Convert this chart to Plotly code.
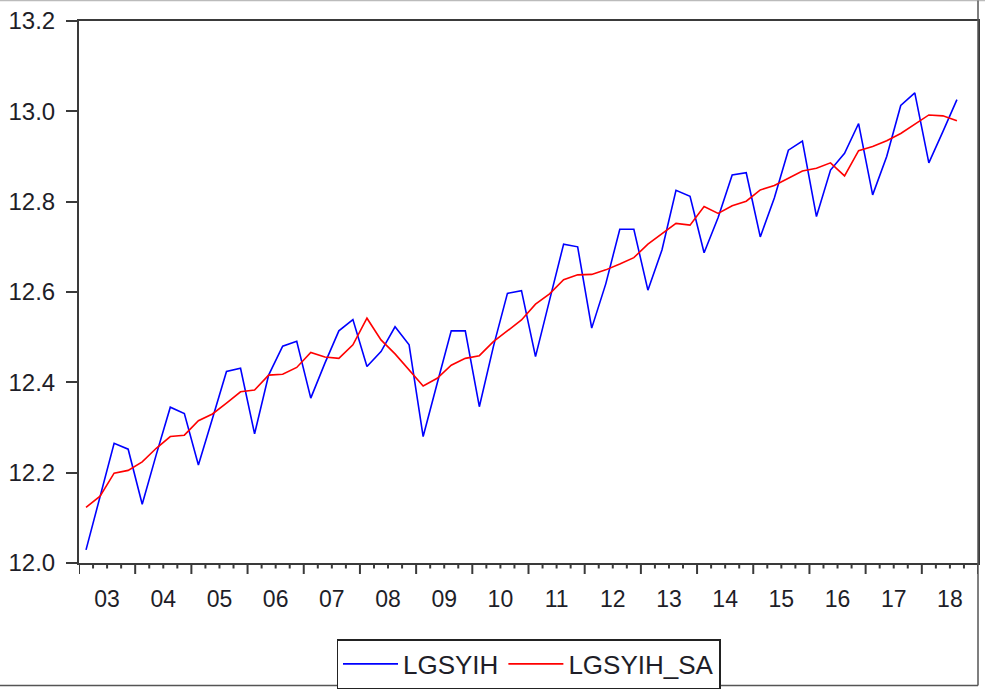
import plotly.graph_objects as go

# Quarterly observations 2003Q1 .. 2018Q3
start_year = 2003
n_obs = 63
periods = [f"{start_year + i // 4}Q{i % 4 + 1}" for i in range(n_obs)]

lgsyih = [
    12.029, 12.150, 12.265, 12.252,
    12.130, 12.240, 12.345, 12.331,
    12.217, 12.320, 12.424, 12.431,
    12.286, 12.416, 12.480, 12.491,
    12.365, 12.442, 12.514, 12.539,
    12.435, 12.468, 12.523, 12.483,
    12.280, 12.398, 12.514, 12.514,
    12.346, 12.479, 12.597, 12.603,
    12.457, 12.582, 12.706, 12.700,
    12.520, 12.618, 12.739, 12.739,
    12.604, 12.693, 12.825, 12.812,
    12.687, 12.765, 12.859, 12.864,
    12.722, 12.808, 12.914, 12.934,
    12.767, 12.870, 12.907, 12.973,
    12.815, 12.900, 13.013, 13.041,
    12.886, 12.955, 13.026,
]

lgsyih_sa = [
    12.123, 12.148, 12.199, 12.205,
    12.224, 12.254, 12.280, 12.283,
    12.315, 12.330, 12.354, 12.379,
    12.383, 12.416, 12.418, 12.433,
    12.466, 12.456, 12.453, 12.483,
    12.542, 12.494, 12.463, 12.427,
    12.392, 12.409, 12.438, 12.453,
    12.459, 12.490, 12.514, 12.538,
    12.573, 12.596, 12.627, 12.638,
    12.639, 12.649, 12.662, 12.676,
    12.706, 12.730, 12.752, 12.748,
    12.789, 12.774, 12.791, 12.801,
    12.826, 12.836, 12.852, 12.868,
    12.874, 12.886, 12.857, 12.913,
    12.922, 12.935, 12.951, 12.972,
    12.992, 12.990, 12.979,
]

year_labels = ["03", "04", "05", "06", "07", "08", "09", "10",
               "11", "12", "13", "14", "15", "16", "17", "18"]
y_ticks = [12.0, 12.2, 12.4, 12.6, 12.8, 13.0, 13.2]


def period_to_x(p):
    y, q = p.split("Q")
    return int(y) + (int(q) - 0.5) / 4.0


xs = [period_to_x(p) for p in periods]
n_years = len(year_labels)
label_pos = [start_year + k + 0.5 for k in range(n_years)]
quarter_bounds = [start_year + k / 4.0 for k in range(4 * n_years + 1)]
x_range = [start_year, start_year + n_years]

FONT = "Liberation Sans, Arial, sans-serif"
AXC = "#3a3a3a"
TXT = "#1e1e28"

# geometry (pixels)
W, H = 985, 691
M_L, M_R, M_T = 79, 7, 21
AXIS_Y = 563            # bottom axis line
TICK_BAND = 11          # strip below the axis holding the tick marks
M_B = H - AXIS_Y - TICK_BAND
AREA_H = H - M_T - M_B
band_frac = TICK_BAND / AREA_H


def py(pix):
    # page pixel row -> paper fraction
    return (H - M_B - pix) / AREA_H


# tick marks: long at year boundaries, short at quarter boundaries
tick_x, tick_y = [], []
for k, q in enumerate(quarter_bounds):
    tick_x += [q, q, None]
    tick_y += [TICK_BAND, 0 if k % 4 == 0 else TICK_BAND - 5.5, None]

fig = go.Figure()
fig.add_trace(go.Scatter(x=xs, y=lgsyih, mode="lines", name="LGSYIH",
                         line=dict(color="#0000FF", width=1.6)))
fig.add_trace(go.Scatter(x=xs, y=lgsyih_sa, mode="lines", name="LGSYIH_SA",
                         line=dict(color="#FF0000", width=1.6)))
fig.add_trace(go.Scatter(x=tick_x, y=tick_y, yaxis="y2", mode="lines",
                         line=dict(color=AXC, width=2), showlegend=False,
                         hoverinfo="skip", connectgaps=False))
# invisible trace to carry the label axis
fig.add_trace(go.Scatter(x=[x_range[0]], y=[y_ticks[0]], xaxis="x2", mode="markers",
                         marker=dict(opacity=0), showlegend=False, hoverinfo="skip"))

common_x = dict(range=x_range, showgrid=False, zeroline=False, automargin=False,
                fixedrange=True)

frame = [
    dict(type="line", xref="paper", yref="paper", x0=-0.09, x1=1.0078,
         y0=py(0.5), y1=py(0.5), line=dict(color="#bbbbbb", width=1.5)),
    dict(type="line", xref="paper", yref="paper", x0=1.0, x1=1.0,
         y0=py(0.5), y1=py(685.5), line=dict(color="#555555", width=1.5)),
    dict(type="line", xref="paper", yref="paper", x0=-0.09, x1=1.0,
         y0=py(685.5), y1=py(685.5), line=dict(color="#555555", width=1.5)),
]

fig.update_layout(
    width=W, height=H,
    margin=dict(l=M_L, r=M_R, t=M_T, b=M_B, autoexpand=False),
    paper_bgcolor="white", plot_bgcolor="white",
    font=dict(family=FONT, size=23, color=TXT),
    showlegend=True,
    legend=dict(orientation="h", x=0.5, y=py(664), xanchor="center", yanchor="middle",
                bordercolor="#222", borderwidth=1.5, bgcolor="white",
                font=dict(family=FONT, size=26, color=TXT),
                itemwidth=55, tracegroupgap=0),
    # frame of the plot
    xaxis=dict(**common_x, anchor="y", showticklabels=False, ticks="",
               showline=True, linecolor=AXC, linewidth=2, mirror=True),
    # year labels
    xaxis2=dict(**common_x, overlaying="x", side="bottom", anchor="y",
                tickmode="array", tickvals=label_pos, ticktext=year_labels,
                ticks="", showline=False, ticklabelstandoff=20,
                tickfont=dict(family=FONT, size=23, color=TXT)),
    yaxis=dict(domain=[band_frac, 1.0],
               range=[y_ticks[0], y_ticks[-1]], tickmode="array", tickvals=y_ticks,
               ticktext=[f"{v:.1f}" for v in y_ticks], ticks="outside", ticklen=11,
               tickwidth=2, tickcolor=AXC, showgrid=False, zeroline=False,
               showline=True, linecolor=AXC, linewidth=2, mirror=True,
               ticklabelstandoff=6, automargin=False, fixedrange=True,
               tickfont=dict(family=FONT, size=24, color=TXT)),
    # strip holding the x tick marks
    yaxis2=dict(domain=[0.0, band_frac], range=[0, TICK_BAND], visible=False,
                fixedrange=True),
    shapes=frame,
)

fig.write_html("out.html", config={"displayModeBar": False},
               post_script="document.body.style.margin='0px';")
